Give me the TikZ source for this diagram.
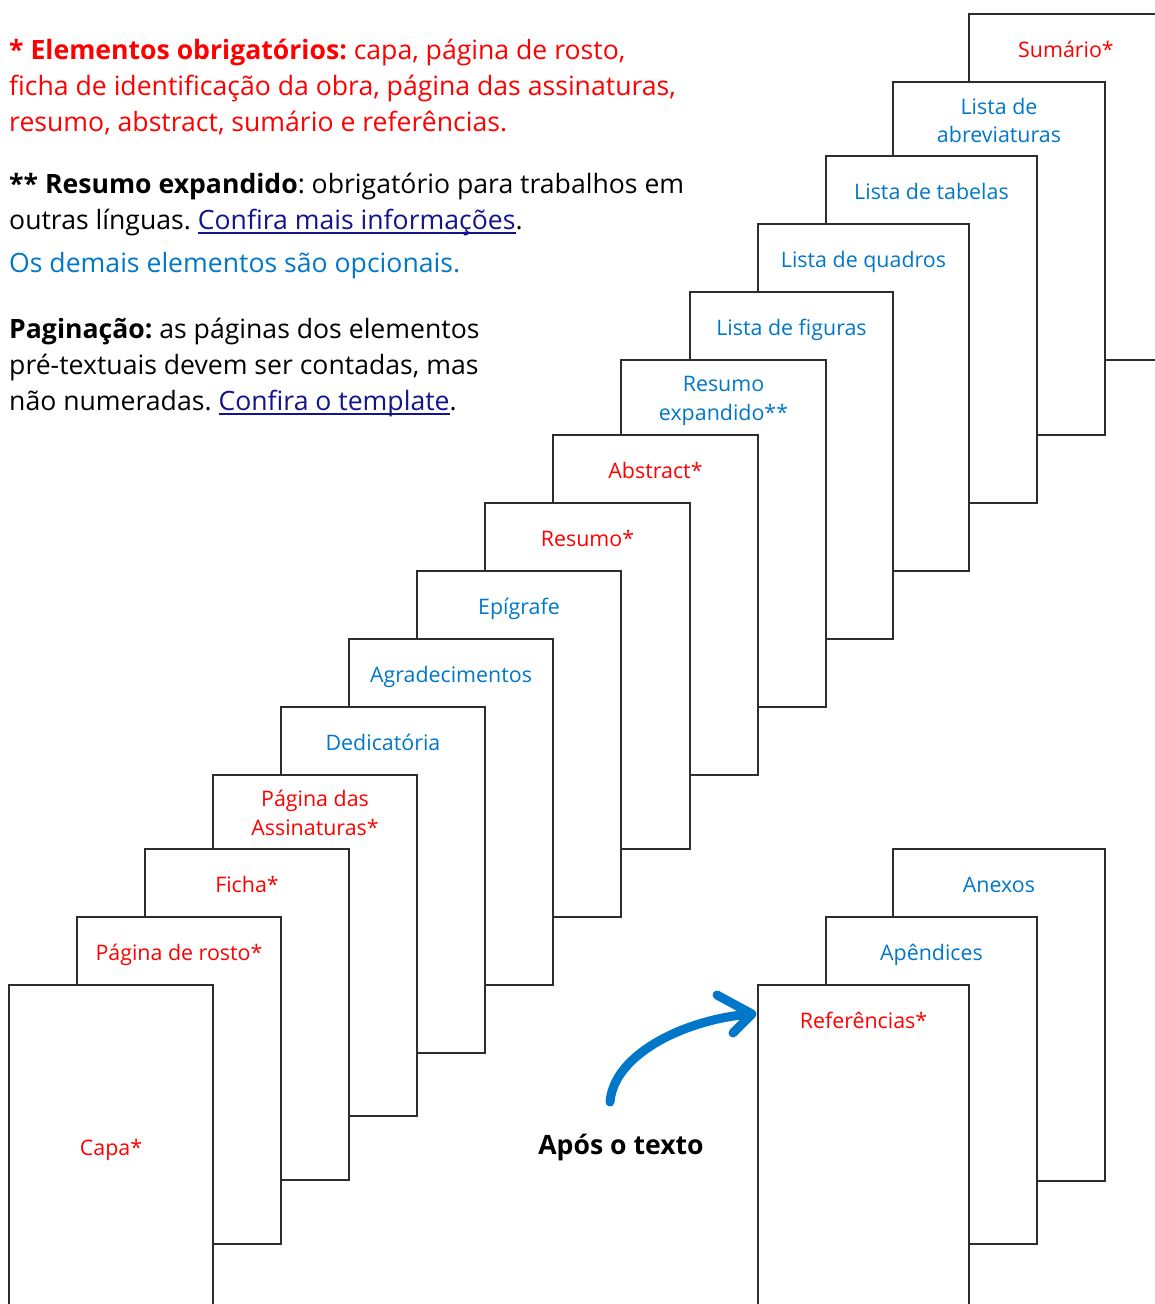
\documentclass[tikz,border=0pt]{standalone}
\usepackage{fontspec}
\setmainfont{Open Sans}
\frenchspacing
\definecolor{redc}{RGB}{255,0,0}
\definecolor{bluec}{RGB}{0,119,200}
\definecolor{linkc}{RGB}{20,20,140}
\definecolor{pgc}{RGB}{45,45,45}
\newsavebox\ulbox
\newcommand\ulk[1]{\textcolor{linkc}{\sbox\ulbox{#1}\rlap{\usebox\ulbox}\rule[-4.5pt]{\wd\ulbox}{1.6pt}}}
\tikzset{
  pg/.style={draw=pgc, line width=1.6pt, fill=white, inner sep=0pt, outer sep=0pt, anchor=north west},
  lab/.style={inner sep=0pt, font=\fontsize{21.4}{28.5}\selectfont\frenchspacing, align=center},
  note/.style={inner sep=0pt, anchor=base west, font=\fontsize{26.6}{36}\selectfont\frenchspacing},
  arrowline/.style={draw=bluec, line width=9pt, line cap=round, line join=round}
}
\begin{document}
\begin{tikzpicture}[x=1pt,y=-1pt]
\useasboundingbox (0,0) rectangle (1155,1304);
\clip (0,0) rectangle (1155,1304);
\fill[white] (0,0) rectangle (1155,1304);

% notes
\node[note, text=redc] (n1) at (9,59) {\textbf{* Elementos obrigatórios:} capa, página de rosto,};
\node[note, text=redc] (n2) at (9,95) {ficha de identificação da obra, página das assinaturas,};
\node[note, text=redc] (n3) at (9,131.5) {resumo, abstract, sumário e referências.};
\node[note] (n4) at (9,193) {\textbf{** Resumo expandido}: obrigatório para trabalhos em};
\node[note] (n5) at (9,229) {outras línguas. \ulk{Confira mais informações}.};
\node[note, text=bluec] (n6) at (9,272.5) {Os demais elementos são opcionais.};
\node[note] (n7) at (9,338) {\textbf{Paginação:} as páginas dos elementos};
\node[note] (n8) at (9,374) {pré-textuais devem ser contadas, mas};
\node[note] (n9) at (9,410.5) {não numeradas. \ulk{Confira o template}.};

% pre-textual pages, back to front
\node[pg, minimum width=194pt, minimum height=346pt] (sum) at (969,14) {};
\node[lab, text=redc, anchor=base] (lsum) at ([yshift=-43pt]sum.north) {Sumário*};
\node[pg, minimum width=212pt, minimum height=353pt] (abr) at (893,82) {};
\node[lab, text=bluec] (labr) at ([yshift=-38.5pt]abr.north) {Lista de\\abreviaturas};
\node[pg, minimum width=211pt, minimum height=347pt] (tab) at (826,156) {};
\node[lab, text=bluec, anchor=base] (ltab) at ([yshift=-43pt]tab.north) {Lista de tabelas};
\node[pg, minimum width=211pt, minimum height=347pt] (qua) at (758,224) {};
\node[lab, text=bluec, anchor=base] (lqua) at ([yshift=-43pt]qua.north) {Lista de quadros};
\node[pg, minimum width=203pt, minimum height=347pt] (fig) at (690,292) {};
\node[lab, text=bluec, anchor=base] (lfig) at ([yshift=-43pt]fig.north) {Lista de figuras};
\node[pg, minimum width=205pt, minimum height=347pt] (rex) at (621,360) {};
\node[lab, text=bluec] (lrex) at ([yshift=-41pt]rex.north) {Resumo\\expandido**};
\node[pg, minimum width=205pt, minimum height=340pt] (abs) at (553,435) {};
\node[lab, text=redc, anchor=base] (labs) at ([yshift=-43pt]abs.north) {Abstract*};
\node[pg, minimum width=205pt, minimum height=346pt] (res) at (485,503) {};
\node[lab, text=redc, anchor=base] (lres) at ([yshift=-43pt]res.north) {Resumo*};
\node[pg, minimum width=204pt, minimum height=346pt] (epi) at (417,571) {};
\node[lab, text=bluec, anchor=base] (lepi) at ([yshift=-43pt]epi.north) {Epígrafe};
\node[pg, minimum width=204pt, minimum height=346pt] (agr) at (349,639) {};
\node[lab, text=bluec, anchor=base] (lagr) at ([yshift=-43pt]agr.north) {Agradecimentos};
\node[pg, minimum width=204pt, minimum height=346pt] (ded) at (281,707) {};
\node[lab, text=bluec, anchor=base] (lded) at ([yshift=-43pt]ded.north) {Dedicatória};
\node[pg, minimum width=204pt, minimum height=341pt] (ass) at (213,775) {};
\node[lab, text=redc] (lass) at ([yshift=-38pt]ass.north) {Página das\\Assinaturas*};
\node[pg, minimum width=204pt, minimum height=331pt] (fic) at (145,849) {};
\node[lab, text=redc, anchor=base] (lfic) at ([yshift=-43pt]fic.north) {Ficha*};
\node[pg, minimum width=204pt, minimum height=327pt] (ros) at (77,917) {};
\node[lab, text=redc, anchor=base] (lros) at ([yshift=-43pt]ros.north) {Página de rosto*};
\node[pg, minimum width=204pt, minimum height=340pt] (cap) at (9,985) {};
\node[lab, text=redc, anchor=base] (lcap) at ([yshift=-170pt]cap.north) {Capa*};

% post-textual pages
\node[pg, minimum width=212pt, minimum height=332pt] (ane) at (893,849) {};
\node[lab, text=bluec, anchor=base] (lane) at ([yshift=-43pt]ane.north) {Anexos};
\node[pg, minimum width=211pt, minimum height=327pt] (apd) at (826,917) {};
\node[lab, text=bluec, anchor=base] (lapd) at ([yshift=-43pt]apd.north) {Apêndices};
\node[pg, minimum width=211pt, minimum height=340pt] (ref) at (758,985) {};
\node[lab, text=redc, anchor=base] (lref) at ([yshift=-43pt]ref.north) {Referências*};

% after text
\node[inner sep=0pt, anchor=base, font=\fontsize{26.6}{36}\selectfont\bfseries] (apos) at (621,1154) {Após o texto};
\coordinate (atail) at (610,1102);
\coordinate (ahead) at (752,1014);
\draw[arrowline] (atail) .. controls (614,1052) and (690,1018) .. (ahead)
  (ahead) ++(-35,-19) -- (ahead) -- ++(-19,19);
\end{tikzpicture}
\end{document}
